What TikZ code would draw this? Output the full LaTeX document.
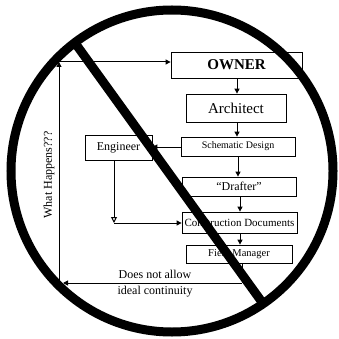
\documentclass[tikz,border=0pt]{standalone}
\usepackage{fontspec}
\setmainfont{Liberation Serif}
\usetikzlibrary{arrows.meta}
\begin{document}
\begin{tikzpicture}[x=1pt,y=-1pt,
  box/.style={draw, line width=0.8pt, inner sep=0pt, anchor=center},
  link/.style={line width=1pt},
  flow/.style={link, -{Triangle[length=5pt,width=5pt]}},
  openflow/.style={link, -{Triangle[open,length=6pt,width=6pt]}},
  ban/.style={line width=9pt}]
\useasboundingbox (0,0) rectangle (339,339);

% process boxes
\node[box, minimum width=131pt, minimum height=26pt,
      font=\fontsize{15}{15}\selectfont\bfseries] (owner) at (236.5,65) {OWNER};
\node[box, minimum width=100pt, minimum height=28pt,
      font=\fontsize{15}{15}\selectfont] (architect) at (236,108) {Architect};
\node[box, minimum width=114pt, minimum height=19pt,
      font=\fontsize{10}{10}\selectfont] (schematic) at (238,146.5) {Schematic Design};
\node[box, minimum width=67pt, minimum height=25pt,
      font=\fontsize{12}{12}\selectfont] (engineer) at (118.5,147.5) {Engineer};
\node[box, minimum width=114pt, minimum height=19pt,
      font=\fontsize{12}{12}\selectfont] (drafter) at (239,186.5) {``Drafter''};
\node[box, minimum width=115pt, minimum height=21pt,
      font=\fontsize{11}{11}\selectfont] (construction) at (239.5,222.5) {Construction Documents};
\node[box, minimum width=106pt, minimum height=18pt,
      font=\fontsize{10.5}{10.5}\selectfont] (fieldmgr) at (239,254) {Field Manager};

% main chain
\draw[flow] (owner.south -| 237,0) -- (architect.north -| 237,0);
\draw[flow] (architect.south -| 237,0) -- (schematic.north -| 237,0);
\draw[flow] (schematic.west |- 0,147) -- (engineer.east |- 0,147);
\draw[flow] (schematic.south -| 238,0) -- (drafter.north -| 238,0);
\draw[flow] (drafter.south -| 240,0) -- (construction.north -| 240,0);
\draw[flow] (construction.south -| 240,0) -- (fieldmgr.north -| 240,0);

% engineer branch
\coordinate (ecorner) at (114,223);
\draw[openflow] (engineer.south -| ecorner) -- (ecorner);
\draw[flow] (ecorner) -- (construction.west |- ecorner);

% feedback loop
\coordinate (fmdown) at (242,283);
\coordinate (bltip) at (63,283);
\coordinate (bl) at (59,283);
\coordinate (tl) at (59,62);
\draw[link] (fieldmgr.south -| fmdown) -- (fmdown);
\draw[flow] (fmdown) -- (bltip);
\draw[flow] (bl) -- (tl);
\draw[flow] (tl) -- (owner.west |- tl);

% labels
\node[rotate=90, font=\fontsize{12}{12}\selectfont] (whathappens) at (49,175) {What Happens???};
\node[align=center, font=\fontsize{12}{16}\selectfont] (continuity) at (155,284)
  {Does not allow\\ideal continuity};

% prohibition sign
\draw[line width=9pt] (172,171) circle (161pt);
\begin{scope}
  \clip (172,171) circle (161pt);
  \draw[ban] (70,36) -- (272,316);
\end{scope}
\end{tikzpicture}
\end{document}
